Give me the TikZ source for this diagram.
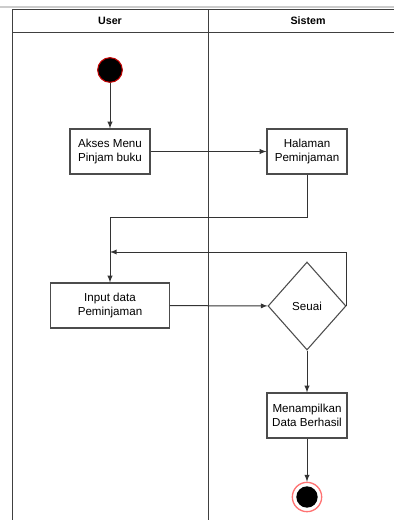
\documentclass[tikz,border=0pt]{standalone}
\usepackage{fontspec}
\setmainfont{Liberation Sans}
\usetikzlibrary{arrows}
\usetikzlibrary{shapes.geometric}

\begin{document}
\begin{tikzpicture}[x=0.75pt,y=-0.75pt,
  act/.style={draw=black!70,line width=0.8pt,minimum width=60pt,minimum height=33.75pt,
    align=center,inner sep=1pt,font=\fontsize{8.7}{11}\selectfont},
  flow/.style={draw=black!80,line width=0.75pt,-latex},
  lane/.style={draw=black!75,line width=0.75pt},
  head/.style={font=\bfseries\fontsize{8}{10}\selectfont}]
\useasboundingbox (0,0) rectangle (394,520);
% swimlanes
\draw[black!20,line width=1pt] (0,7) -- (394,7);
\draw[lane] (12,520) -- (12,9.5) -- (394,9.5);
\draw[lane] (12,33) -- (394,33);
\draw[lane] (208,9.5) -- (208,520);
\node[head] (user) at (110,21) {User};
\node[head] (sistem) at (308,21) {Sistem};
% activities
\node[circle,fill=black,draw=red!75!black,line width=0.8pt,minimum size=18.5pt,inner sep=0pt] (start) at (110,70) {};
\node[act] (akses) at (110,151.5) {Akses Menu\\Pinjam buku};
\node[act] (halaman) at (307,151.5) {Halaman\\Peminjaman};
\node[act,minimum width=89pt] (input) at (110,305.5) {Input data\\Peminjaman};
\node[diamond,draw=black!70,line width=0.8pt,minimum width=58.5pt,minimum height=66pt,inner sep=0pt,
  font=\fontsize{8.7}{11}\selectfont] (sesuai) at (307,306) {Seuai};
\node[act] (tampil) at (307,415.5) {Menampilkan\\Data Berhasil};
\node[circle,draw=red!55,line width=1pt,minimum size=22pt,inner sep=0pt] (end) at (307,497) {};
\node[circle,fill=black,minimum size=16pt,inner sep=0pt] (endin) at (end) {};
\coordinate (bend) at (110,217);
\coordinate (back) at (110,252);
% connectors
\draw[flow] (start) -- (akses);
\draw[flow] (akses) -- (halaman);
\draw[flow] (halaman.south) |- (bend) -- (input.north);
\draw[flow] (sesuai.east) |- (back);
\draw[flow] (input) -- (sesuai);
\draw[flow] (sesuai) -- (tampil);
\draw[flow] (tampil) -- (end);
\end{tikzpicture}
\end{document}
